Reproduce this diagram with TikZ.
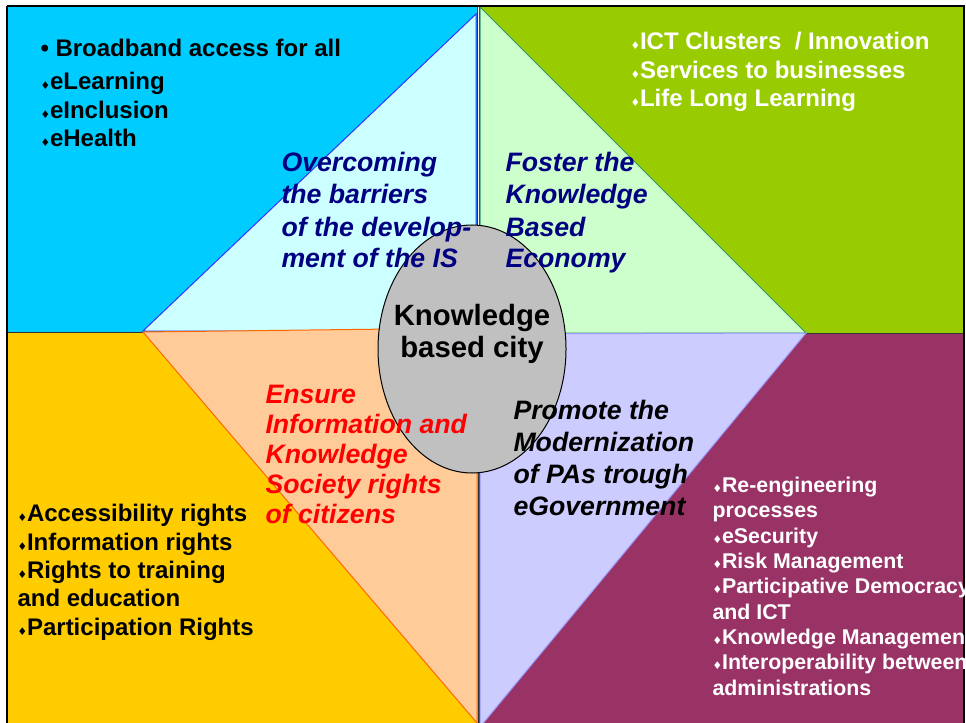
\documentclass[tikz,border=0pt]{standalone}
\usepackage{fontspec}
\setmainfont{Liberation Sans}
\newfontfamily\symfont{DejaVu Sans}

\definecolor{skyblue}{RGB}{0,204,255}
\definecolor{paleblue}{RGB}{204,255,255}
\definecolor{leafgreen}{RGB}{153,204,0}
\definecolor{palegreen}{RGB}{204,255,204}
\definecolor{gold}{RGB}{255,204,0}
\definecolor{peach}{RGB}{255,204,153}
\definecolor{plum}{RGB}{153,51,102}
\definecolor{lavender}{RGB}{204,204,255}
\definecolor{navy}{RGB}{0,0,128}

% small diamond in front of the list entries
\newcommand{\dmd}{{\symfont\fontsize{8}{8}\selectfont\char"2666}}

% text nodes sit on the baseline of their last line
\tikzset{every picture/.style={line width=0.75pt},
  bullets/.style={anchor=base west, inner sep=0pt, align=left, font=\bfseries\fontsize{18}{21.5}\selectfont},
  smallbullets/.style={bullets, font=\bfseries\fontsize{16}{19}\selectfont},
  goal/.style={anchor=base west, inner sep=0pt, align=left, font=\bfseries\itshape\fontsize{20}{24}\selectfont}}

\begin{document}
\begin{tikzpicture}[x=0.75pt,y=0.75pt,yscale=-1,xscale=1]
\useasboundingbox (0,0) rectangle (966,723);
\clip (0,0) rectangle (966,723);

%Shape: Rectangle [quarters]
\draw [fill=skyblue, draw=black!80, line width=0.5pt] (7,6) rectangle (477,332);
\draw [fill=leafgreen, draw=black!80, line width=0.5pt] (479,6) rectangle (964,333);
\draw [fill=gold, draw=black!80, line width=0.5pt] (7,332) rectangle (478,740);
\draw [fill=plum, draw=black!80, line width=0.5pt] (479,333) rectangle (964,740);

%Shape: Triangle [inner diamond]
\draw [fill=paleblue, draw={rgb, 255:red, 51; green, 51; blue, 255}] (476,14) -- (143,331) -- (476,331) -- cycle;
\draw [fill=palegreen, draw={rgb, 255:red, 51; green, 153; blue, 102}] (480,7) -- (806,333) -- (480,333) -- cycle;
\draw [fill=peach, draw={rgb, 255:red, 255; green, 102; blue, 0}] (143,332) -- (477,328) -- (477,723) -- cycle;
\draw [fill=lavender, draw={rgb, 255:red, 153; green, 153; blue, 255}] (806,333) -- (480,334) -- (480,727) -- cycle;

%Straight Lines
\draw [line width=1.8pt] (7,6) -- (964,6) -- (964,740);
\draw [line width=1.8pt] (7,6) -- (7,740);

%Shape: Ellipse
\draw [fill={rgb, 255:red, 192; green, 192; blue, 192}] (472,349) ellipse [x radius=94, y radius=124];

% Text Node
\node (city) [anchor=base, inner sep=0pt, align=center, font=\bfseries\fontsize{22}{24}\selectfont] at (472,357) {Knowledge\\based city};

% Text Node
\node (access) [bullets] at (40,147) {\textbullet\ Broadband access for all\\[3.5pt]\dmd eLearning\\\dmd eInclusion\\\dmd eHealth};
% Text Node
\node (business) [bullets, text=white] at (630,107) {\dmd ICT Clusters~ / Innovation\\\dmd Services to businesses\\\dmd Life Long Learning};
% Text Node
\node (rights) [bullets, font=\bfseries\fontsize{18}{21.2}\selectfont] at (17,635) {\dmd Accessibility rights\\\dmd Information rights\\\dmd Rights to training\\and education\\\dmd Participation Rights};
% Text Node
\node (admin) [smallbullets, text=white] at (712,695) {\dmd Re-engineering\\processes\\\dmd eSecurity\\\dmd Risk Management\\\dmd Participative Democracy\\and ICT\\\dmd Knowledge Management\\\dmd Interoperability between\\administrations};

% Text Node
\node (barriers) [goal, text=navy] at (281,268) {Overcoming\\the barriers\\of the develop-\\ment of the IS};
% Text Node
\node (foster) [goal, text=navy] at (505,268) {Foster the\\Knowledge\\Based\\Economy};
% Text Node
\node (ensure) [goal, text=red, font=\bfseries\itshape\fontsize{20}{22.5}\selectfont] at (265,523) {Ensure\\Information and\\Knowledge\\Society rights\\of citizens};
% Text Node
\node (promote) [goal] at (513,515) {Promote the\\Modernization\\of PAs trough\\eGovernment};

\end{tikzpicture}
\end{document}
